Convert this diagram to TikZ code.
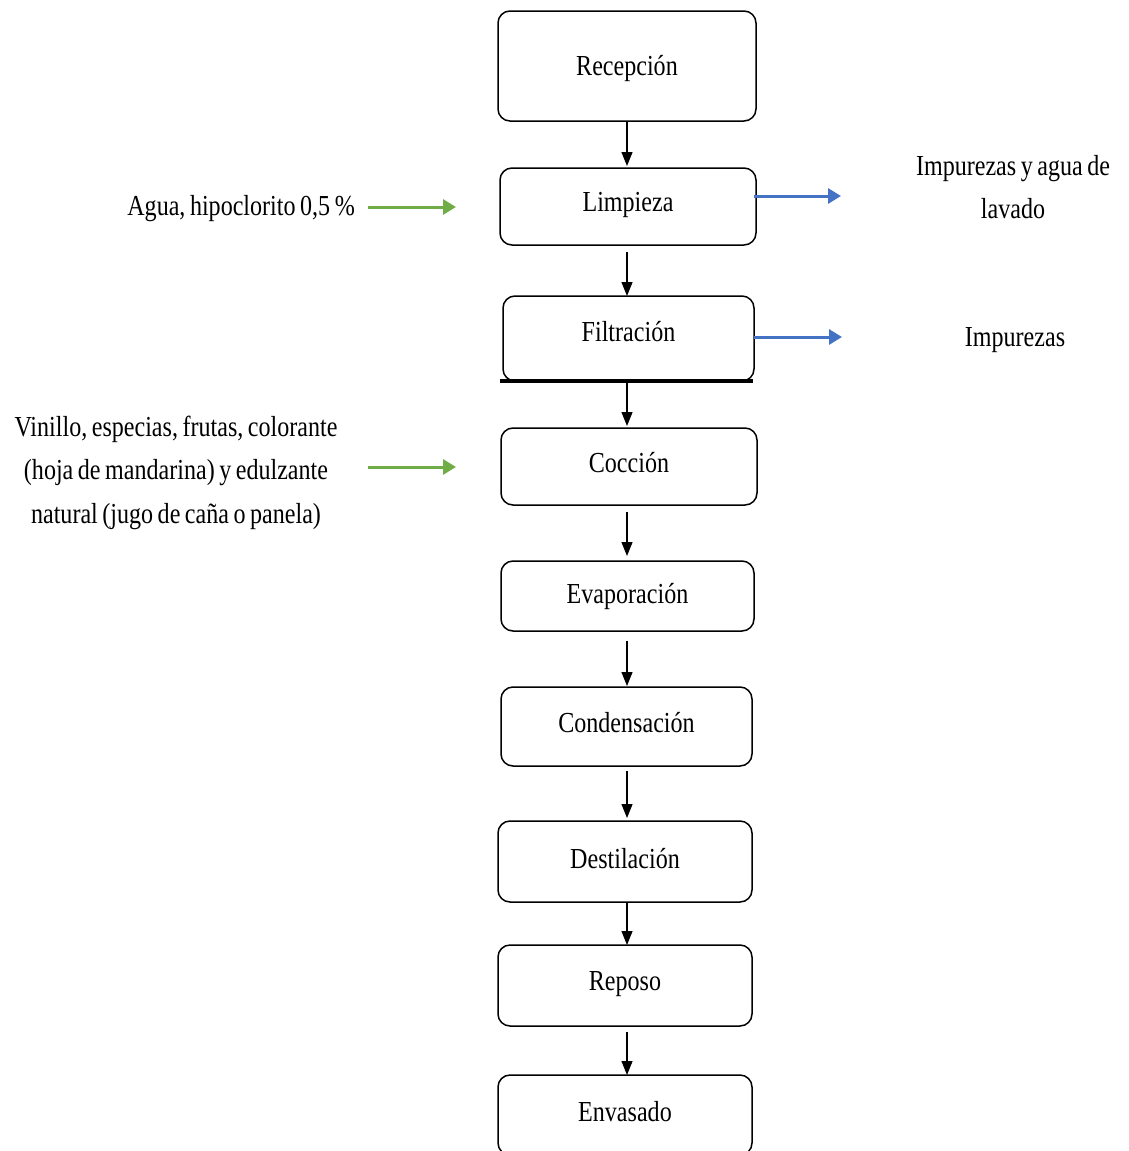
\documentclass[tikz,border=0pt]{standalone}
\usepackage{fontspec}
\setmainfont{Liberation Serif}[FakeStretch=0.83,WordSpace=0.75]
\usetikzlibrary{arrows.meta}
\definecolor{grn}{HTML}{70AD47}
\definecolor{blu}{HTML}{4472C4}
\begin{document}
\begin{tikzpicture}[x=1pt,y=-1pt,
  font=\fontsize{29}{43.5}\selectfont,
  stepbox/.style={draw=black,line width=1.5pt,rounded corners=12pt,inner sep=0pt,align=center},
  flow/.style={-{Triangle[length=14pt,width=11pt]},line width=1.2pt},
  inarrow/.style={-{Triangle[length=13pt,width=15pt]},line width=3pt,grn},
  outarrow/.style={-{Triangle[length=13pt,width=15pt]},line width=3pt,blu},
  lbl/.style={inner sep=0pt,align=center}]
\useasboundingbox (0,0) rectangle (1128,1151);
\clip (0,0) rectangle (1128,1151);
\fill[white] (0,0) rectangle (1128,1151);
% boxes
\node[stepbox,minimum width=258pt,minimum height=110pt] (rec) at (627,66) {\raisebox{-3pt}[\height][\depth]{Recepción}};
\node[stepbox,minimum width=256pt,minimum height=77pt] (lim) at (628,206.5) {\raisebox{2pt}[\height][\depth]{Limpieza}};
\node[stepbox,minimum width=251pt,minimum height=85pt] (fil) at (628.5,338.5) {\raisebox{7pt}[\height][\depth]{Filtración}};
\draw[line width=4pt] (500,381) -- (753,381);
\node[stepbox,minimum width=256pt,minimum height=77pt] (coc) at (629,466.5) {\raisebox{4pt}[\height][\depth]{Cocción}};
\node[stepbox,minimum width=253pt,minimum height=70pt] (eva) at (627.5,596) {Evaporación};
\node[stepbox,minimum width=251pt,minimum height=79pt] (con) at (626.5,726.5) {\raisebox{4pt}[\height][\depth]{Condensación}};
\node[stepbox,minimum width=254pt,minimum height=81pt] (des) at (625,861.5) {\raisebox{3pt}[\height][\depth]{Destilación}};
\node[stepbox,minimum width=254pt,minimum height=81pt] (rep) at (625,985.5) {\raisebox{1pt}[\height][\depth]{Reposo}};
\node[stepbox,minimum width=254pt,minimum height=80pt] (env) at (625,1115) {\raisebox{3pt}[\height][\depth]{Envasado}};
% flow arrows
\draw[flow] (627,121) -- (627,166);
\draw[flow] (627,252) -- (627,296);
\draw[flow] (627,383) -- (627,426);
\draw[flow] (627,512) -- (627,556);
\draw[flow] (627,641) -- (627,686);
\draw[flow] (627,771) -- (627,818);
\draw[flow] (627,902) -- (627,945);
\draw[flow] (627,1032) -- (627,1075);
% input labels
\node[lbl,anchor=east] (agua) at (355,209) {Agua, hipoclorito 0,5 \%};
\node[lbl] (vin) at (176,472.5) {Vinillo, especias, frutas, colorante\\(hoja de mandarina) y edulzante\\natural (jugo de caña o panela)};
\coordinate (a1s) at (368,207);
\coordinate (a1e) at (456,207);
\coordinate (a2s) at (368,467);
\coordinate (a2e) at (456,467);
\draw[inarrow] (a1s) -- (a1e);
\draw[inarrow] (a2s) -- (a2e);
% outputs
\node[lbl] (imp1) at (1013,187) {Impurezas y agua de\\lavado};
\node[lbl] (imp2) at (1015,340) {Impurezas};
\coordinate (b1s) at (754,196);
\coordinate (b1e) at (841,196);
\coordinate (b2s) at (754,337);
\coordinate (b2e) at (842,337);
\draw[outarrow] (b1s) -- (b1e);
\draw[outarrow] (b2s) -- (b2e);
\end{tikzpicture}
\end{document}
